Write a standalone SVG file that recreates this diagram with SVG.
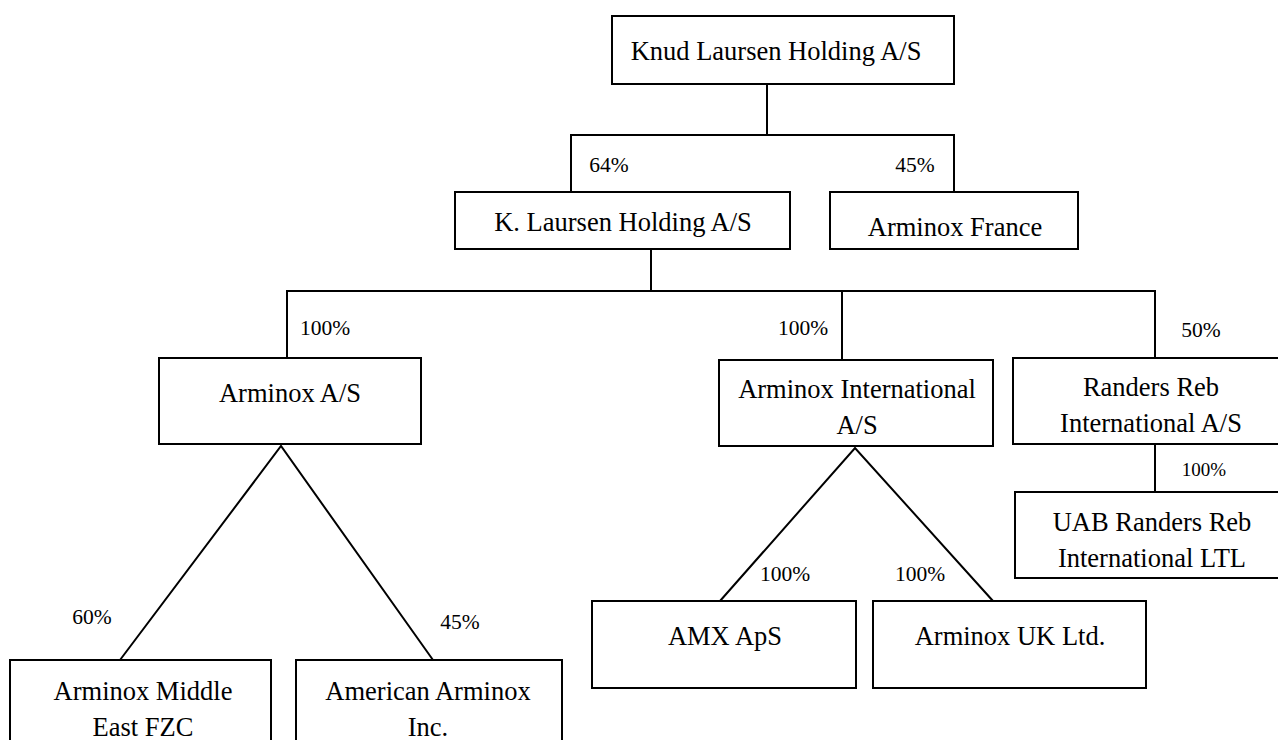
<svg xmlns="http://www.w3.org/2000/svg" width="1278" height="740" viewBox="0 0 1278 740">
<style>
.box{fill:#fff;stroke:#000;stroke-width:2}
.t{font-family:"Liberation Serif","Times New Roman",serif;font-size:26.5px;fill:#000;text-anchor:middle}
.p{font-family:"Liberation Serif","Times New Roman",serif;font-size:21.5px;fill:#000;text-anchor:middle}
.c{fill:none;stroke:#000;stroke-width:2}
</style>
<rect width="1278" height="740" fill="#fff"/>
<g id="connectors">
<path class="c" d="M767 84V135M571 192V135H954V192"/>
<path class="c" d="M651 249V291M287 358V291H1155V358M842 291V360"/>
<path class="c" d="M1155 444V492"/>
<path class="c" d="M120 660L281 446L433 660"/>
<path class="c" d="M720 601L855 448L993 601"/>
<text class="p" x="609" y="172">64%</text>
<text class="p" x="915" y="172">45%</text>
<text class="p" x="325" y="335">100%</text>
<text class="p" x="803" y="335">100%</text>
<text class="p" x="1201" y="337">50%</text>
<text class="p" x="1204" y="476" style="font-size:19px">100%</text>
<text class="p" x="92" y="624">60%</text>
<text class="p" x="460" y="629">45%</text>
<text class="p" x="785" y="581">100%</text>
<text class="p" x="920" y="581">100%</text>
</g>
<g id="knud"><rect class="box" x="612" y="16" width="342" height="68"/><text class="t" x="776" y="60">Knud Laursen Holding A/S</text></g>
<g id="klaursen"><rect class="box" x="455" y="192" width="335" height="57"/><text class="t" x="623" y="231">K. Laursen Holding A/S</text></g>
<g id="france"><rect class="box" x="830" y="192" width="248" height="57"/><text class="t" x="955" y="236">Arminox France</text></g>
<g id="arminox"><rect class="box" x="159" y="358" width="262" height="86"/><text class="t" x="290" y="402">Arminox A/S</text></g>
<g id="intl"><rect class="box" x="719" y="360" width="274" height="86"/><text class="t" x="857" y="398">Arminox International</text><text class="t" x="857" y="434">A/S</text></g>
<g id="randers"><rect class="box" x="1013" y="358" width="270" height="86"/><text class="t" x="1151" y="396">Randers Reb</text><text class="t" x="1151" y="432">International A/S</text></g>
<g id="uab"><rect class="box" x="1015" y="492" width="268" height="86"/><text class="t" x="1152" y="531">UAB Randers Reb</text><text class="t" x="1152" y="567">International LTL</text></g>
<g id="middleeast"><rect class="box" x="10" y="660" width="261" height="90"/><text class="t" x="143" y="700">Arminox Middle</text><text class="t" x="143" y="736">East FZC</text></g>
<g id="american"><rect class="box" x="296" y="660" width="266" height="90"/><text class="t" x="428" y="700">American Arminox</text><text class="t" x="428" y="736">Inc.</text></g>
<g id="amx"><rect class="box" x="592" y="601" width="264" height="87"/><text class="t" x="725" y="645">AMX ApS</text></g>
<g id="uk"><rect class="box" x="873" y="601" width="273" height="87"/><text class="t" x="1010" y="645">Arminox UK Ltd.</text></g>
</svg>
